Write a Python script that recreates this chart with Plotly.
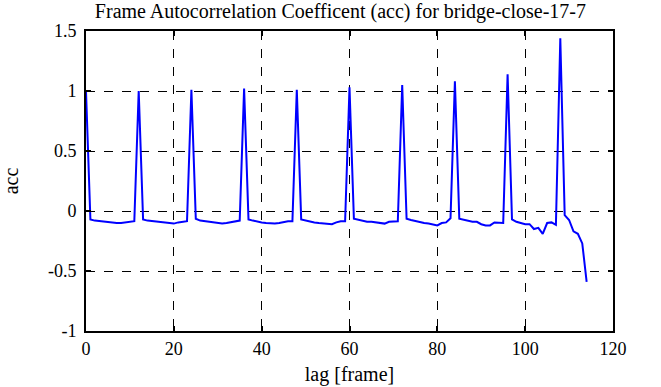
import plotly.graph_objects as go

lags = list(range(0, 115))
acc = [
    1.00,
    -0.07, -0.08, -0.085, -0.09, -0.095, -0.10, -0.10, -0.10, -0.095, -0.09, -0.085,
    1.00,
    -0.07, -0.08, -0.085, -0.09, -0.095, -0.10, -0.10, -0.105, -0.095, -0.09, -0.085,
    1.01,
    -0.065, -0.08, -0.085, -0.09, -0.095, -0.10, -0.105, -0.10, -0.095, -0.09, -0.08,
    1.02,
    -0.07, -0.08, -0.09, -0.095, -0.10, -0.105, -0.105, -0.10, -0.09, -0.085, -0.085,
    1.01,
    -0.07, -0.08, -0.085, -0.095, -0.10, -0.105, -0.11, -0.11, -0.095, -0.085, -0.085,
    1.03,
    -0.065, -0.075, -0.085, -0.09, -0.09, -0.095, -0.10, -0.105, -0.09, -0.085, -0.085,
    1.05,
    -0.065, -0.075, -0.085, -0.09, -0.10, -0.105, -0.11, -0.12, -0.10, -0.095, -0.06,
    1.08,
    -0.065, -0.075, -0.085, -0.09, -0.09, -0.11, -0.12, -0.12, -0.095, -0.10, -0.10,
    1.14,
    -0.07, -0.09, -0.10, -0.11, -0.11, -0.15, -0.14, -0.19, -0.10, -0.095, -0.115,
    1.44,
    -0.035, -0.075, -0.17, -0.19, -0.27, -0.59,
]

x_ticks = [0, 20, 40, 60, 80, 100, 120]
y_ticks = [-1, -0.5, 0, 0.5, 1, 1.5]
y_tick_text = ["-1", "-0.5", "0", "0.5", "1", "1.5"]

font_family = "Liberation Serif"

fig = go.Figure()
fig.add_trace(go.Scatter(
    x=lags, y=acc, mode="lines",
    line=dict(color="#0000ff", width=2),
    showlegend=False,
))

axis_common = dict(
    showline=True, linecolor="black", linewidth=2, mirror="ticks",
    ticks="inside", ticklen=5, tickwidth=2, tickcolor="black",
    showgrid=True, gridcolor="black", gridwidth=1, griddash="dash",
    zeroline=False,
    tickfont=dict(family=font_family, size=18, color="black"),
)

fig.update_xaxes(
    range=[0, 120], tickvals=x_ticks, ticktext=[str(v) for v in x_ticks],
    title=dict(text="lag [frame]", font=dict(family=font_family, size=20, color="black"), standoff=9),
    **axis_common,
)
fig.update_yaxes(
    range=[-1, 1.5], tickvals=y_ticks, ticktext=y_tick_text,
    ticklabelstandoff=4,
    title=dict(text="acc", font=dict(family=font_family, size=20, color="black"), standoff=24),
    **axis_common,
)

fig.update_layout(
    width=661, height=387,
    margin=dict(l=86, r=48, t=31, b=56, autoexpand=False),
    paper_bgcolor="white", plot_bgcolor="white",
    title=dict(
        text="Frame Autocorrelation Coefficent (acc) for bridge-close-17-7",
        font=dict(family=font_family, size=20, color="black"),
        x=0.515, xanchor="center", y=0.972, yanchor="middle",
    ),
    font=dict(family=font_family, color="black"),
)

fig.write_html("out.html", config={"displayModeBar": False},
               post_script="document.body.style.margin='0';")
